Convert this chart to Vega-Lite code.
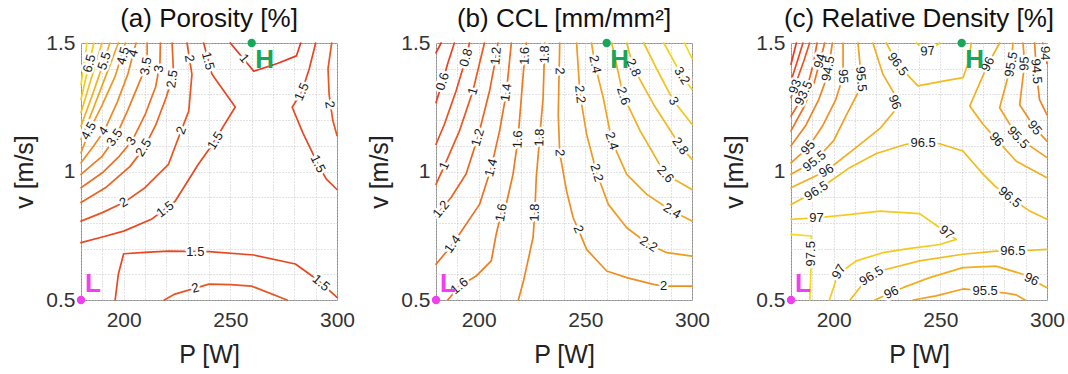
{
"$schema":"https://vega.github.io/schema/vega-lite/v6.json",
"padding":{"left":12,"top":6,"right":5,"bottom":5},
"config":{"font":"Liberation Sans","view":{"stroke":"#8a8a8a","strokeWidth":1}},
"bounds":"flush",
"spacing":99,
"data":{"values":[
{"p":"a","k":"L","id":"a7","lv":7,"P":180,"v":1.339},{"p":"a","k":"L","id":"a7","lv":7,"P":181.5,"v":1.42},{"p":"a","k":"L","id":"a7","lv":7,"P":182.8,"v":1.5},
{"p":"a","k":"L","id":"a65","lv":6.5,"P":180,"v":1.28},{"p":"a","k":"L","id":"a65","lv":6.5,"P":183,"v":1.39},{"p":"a","k":"L","id":"a65","lv":6.5,"P":186,"v":1.5},
{"p":"a","k":"L","id":"a6","lv":6,"P":180,"v":1.229},{"p":"a","k":"L","id":"a6","lv":6,"P":184,"v":1.34},{"p":"a","k":"L","id":"a6","lv":6,"P":187,"v":1.42},{"p":"a","k":"L","id":"a6","lv":6,"P":189.8,"v":1.5},
{"p":"a","k":"L","id":"a55","lv":5.5,"P":180,"v":1.177},{"p":"a","k":"L","id":"a55","lv":5.5,"P":185,"v":1.29},{"p":"a","k":"L","id":"a55","lv":5.5,"P":190,"v":1.41},{"p":"a","k":"L","id":"a55","lv":5.5,"P":193.5,"v":1.5},
{"p":"a","k":"L","id":"a5","lv":5,"P":180,"v":1.125},{"p":"a","k":"L","id":"a5","lv":5,"P":186,"v":1.25},{"p":"a","k":"L","id":"a5","lv":5,"P":192,"v":1.38},{"p":"a","k":"L","id":"a5","lv":5,"P":197.5,"v":1.5},
{"p":"a","k":"L","id":"a45","lv":4.5,"P":180,"v":1.073},{"p":"a","k":"L","id":"a45","lv":4.5,"P":184,"v":1.16},{"p":"a","k":"L","id":"a45","lv":4.5,"P":190,"v":1.26},{"p":"a","k":"L","id":"a45","lv":4.5,"P":196,"v":1.37},{"p":"a","k":"L","id":"a45","lv":4.5,"P":200.8,"v":1.5},
{"p":"a","k":"L","id":"a4","lv":4,"P":180,"v":1.034},{"p":"a","k":"L","id":"a4","lv":4,"P":186,"v":1.1},{"p":"a","k":"L","id":"a4","lv":4,"P":191,"v":1.16},{"p":"a","k":"L","id":"a4","lv":4,"P":197,"v":1.27},{"p":"a","k":"L","id":"a4","lv":4,"P":202,"v":1.38},{"p":"a","k":"L","id":"a4","lv":4,"P":205.8,"v":1.5},
{"p":"a","k":"L","id":"a35","lv":3.5,"P":180,"v":0.989},{"p":"a","k":"L","id":"a35","lv":3.5,"P":190,"v":1.06},{"p":"a","k":"L","id":"a35","lv":3.5,"P":196,"v":1.13},{"p":"a","k":"L","id":"a35","lv":3.5,"P":202,"v":1.24},{"p":"a","k":"L","id":"a35","lv":3.5,"P":207,"v":1.34},{"p":"a","k":"L","id":"a35","lv":3.5,"P":211,"v":1.42},{"p":"a","k":"L","id":"a35","lv":3.5,"P":211,"v":1.5},
{"p":"a","k":"L","id":"a3","lv":3,"P":180,"v":0.937},{"p":"a","k":"L","id":"a3","lv":3,"P":190,"v":0.995},{"p":"a","k":"L","id":"a3","lv":3,"P":198,"v":1.06},{"p":"a","k":"L","id":"a3","lv":3,"P":204,"v":1.12},{"p":"a","k":"L","id":"a3","lv":3,"P":210,"v":1.22},{"p":"a","k":"L","id":"a3","lv":3,"P":215,"v":1.33},{"p":"a","k":"L","id":"a3","lv":3,"P":217,"v":1.42},{"p":"a","k":"L","id":"a3","lv":3,"P":217.2,"v":1.5},
{"p":"a","k":"L","id":"a25","lv":2.5,"P":180,"v":0.879},{"p":"a","k":"L","id":"a25","lv":2.5,"P":192,"v":0.94},{"p":"a","k":"L","id":"a25","lv":2.5,"P":203,"v":1.02},{"p":"a","k":"L","id":"a25","lv":2.5,"P":209.5,"v":1.09},{"p":"a","k":"L","id":"a25","lv":2.5,"P":215,"v":1.18},{"p":"a","k":"L","id":"a25","lv":2.5,"P":220,"v":1.29},{"p":"a","k":"L","id":"a25","lv":2.5,"P":223.4,"v":1.38},{"p":"a","k":"L","id":"a25","lv":2.5,"P":222.7,"v":1.5},
{"p":"a","k":"L","id":"a2","lv":2,"P":180,"v":0.807},{"p":"a","k":"L","id":"a2","lv":2,"P":190,"v":0.84},{"p":"a","k":"L","id":"a2","lv":2,"P":200,"v":0.879},{"p":"a","k":"L","id":"a2","lv":2,"P":210,"v":0.937},{"p":"a","k":"L","id":"a2","lv":2,"P":221,"v":1.028},{"p":"a","k":"L","id":"a2","lv":2,"P":227,"v":1.16},{"p":"a","k":"L","id":"a2","lv":2,"P":230.5,"v":1.235},{"p":"a","k":"L","id":"a2","lv":2,"P":232,"v":1.378},{"p":"a","k":"L","id":"a2","lv":2,"P":229.7,"v":1.5},
{"p":"a","k":"L","id":"a15","lv":1.5,"P":180,"v":0.723},{"p":"a","k":"L","id":"a15","lv":1.5,"P":190,"v":0.745},{"p":"a","k":"L","id":"a15","lv":1.5,"P":200,"v":0.768},{"p":"a","k":"L","id":"a15","lv":1.5,"P":213,"v":0.814},{"p":"a","k":"L","id":"a15","lv":1.5,"P":224.2,"v":0.885},{"p":"a","k":"L","id":"a15","lv":1.5,"P":235,"v":1.028},{"p":"a","k":"L","id":"a15","lv":1.5,"P":240.6,"v":1.093},{"p":"a","k":"L","id":"a15","lv":1.5,"P":252.3,"v":1.251},{"p":"a","k":"L","id":"a15","lv":1.5,"P":241.4,"v":1.378},{"p":"a","k":"L","id":"a15","lv":1.5,"P":237.5,"v":1.5},
{"p":"a","k":"L","id":"a1","lv":1,"P":250,"v":1.5},{"p":"a","k":"L","id":"a1","lv":1,"P":261,"v":1.39},{"p":"a","k":"L","id":"a1","lv":1,"P":272,"v":1.42},{"p":"a","k":"L","id":"a1","lv":1,"P":281,"v":1.45},{"p":"a","k":"L","id":"a1","lv":1,"P":283,"v":1.5},
{"p":"a","k":"L","id":"a15r","lv":1.5,"P":290,"v":1.5},{"p":"a","k":"L","id":"a15r","lv":1.5,"P":287,"v":1.4},{"p":"a","k":"L","id":"a15r","lv":1.5,"P":283.5,"v":1.31},{"p":"a","k":"L","id":"a15r","lv":1.5,"P":279,"v":1.25},{"p":"a","k":"L","id":"a15r","lv":1.5,"P":284,"v":1.15},{"p":"a","k":"L","id":"a15r","lv":1.5,"P":291,"v":1.03},{"p":"a","k":"L","id":"a15r","lv":1.5,"P":295,"v":0.97},{"p":"a","k":"L","id":"a15r","lv":1.5,"P":300,"v":0.93},
{"p":"a","k":"L","id":"a2r","lv":2,"P":297.5,"v":1.5},{"p":"a","k":"L","id":"a2r","lv":2,"P":295.8,"v":1.4},{"p":"a","k":"L","id":"a2r","lv":2,"P":296.3,"v":1.3},{"p":"a","k":"L","id":"a2r","lv":2,"P":298,"v":1.2},{"p":"a","k":"L","id":"a2r","lv":2,"P":300,"v":1.14},
{"p":"a","k":"L","id":"a15b","lv":1.5,"P":196,"v":0.5},{"p":"a","k":"L","id":"a15b","lv":1.5,"P":197.5,"v":0.6},{"p":"a","k":"L","id":"a15b","lv":1.5,"P":200,"v":0.68},{"p":"a","k":"L","id":"a15b","lv":1.5,"P":210,"v":0.685},{"p":"a","k":"L","id":"a15b","lv":1.5,"P":221,"v":0.69},{"p":"a","k":"L","id":"a15b","lv":1.5,"P":240,"v":0.688},{"p":"a","k":"L","id":"a15b","lv":1.5,"P":261,"v":0.675},{"p":"a","k":"L","id":"a15b","lv":1.5,"P":280.5,"v":0.64},{"p":"a","k":"L","id":"a15b","lv":1.5,"P":290.6,"v":0.58},{"p":"a","k":"L","id":"a15b","lv":1.5,"P":296,"v":0.54},{"p":"a","k":"L","id":"a15b","lv":1.5,"P":300,"v":0.51},
{"p":"a","k":"L","id":"a2b","lv":2,"P":219,"v":0.5},{"p":"a","k":"L","id":"a2b","lv":2,"P":224,"v":0.523},{"p":"a","k":"L","id":"a2b","lv":2,"P":240,"v":0.562},{"p":"a","k":"L","id":"a2b","lv":2,"P":250,"v":0.56},{"p":"a","k":"L","id":"a2b","lv":2,"P":260,"v":0.554},{"p":"a","k":"L","id":"a2b","lv":2,"P":276.6,"v":0.5},

{"p":"b","k":"L","id":"b04","lv":0.4,"P":180,"v":1.462},{"p":"b","k":"L","id":"b04","lv":0.4,"P":182.4,"v":1.5},
{"p":"b","k":"L","id":"b06","lv":0.6,"P":188.6,"v":1.5},{"p":"b","k":"L","id":"b06","lv":0.6,"P":185.5,"v":1.42},{"p":"b","k":"L","id":"b06","lv":0.6,"P":183.1,"v":1.35},{"p":"b","k":"L","id":"b06","lv":0.6,"P":180,"v":1.268},
{"p":"b","k":"L","id":"b08","lv":0.8,"P":195.7,"v":1.5},{"p":"b","k":"L","id":"b08","lv":0.8,"P":194.1,"v":1.443},{"p":"b","k":"L","id":"b08","lv":0.8,"P":189.4,"v":1.313},{"p":"b","k":"L","id":"b08","lv":0.8,"P":183.9,"v":1.183},{"p":"b","k":"L","id":"b08","lv":0.8,"P":180,"v":1.106},
{"p":"b","k":"L","id":"b10","lv":1,"P":202.7,"v":1.5},{"p":"b","k":"L","id":"b10","lv":1,"P":197.3,"v":1.313},{"p":"b","k":"L","id":"b10","lv":1,"P":191,"v":1.158},{"p":"b","k":"L","id":"b10","lv":1,"P":183.9,"v":1.022},{"p":"b","k":"L","id":"b10","lv":1,"P":180,"v":0.95},
{"p":"b","k":"L","id":"b12","lv":1.2,"P":209,"v":1.5},{"p":"b","k":"L","id":"b12","lv":1.2,"P":208.2,"v":1.45},{"p":"b","k":"L","id":"b12","lv":1.2,"P":205.1,"v":1.313},{"p":"b","k":"L","id":"b12","lv":1.2,"P":199.6,"v":1.132},{"p":"b","k":"L","id":"b12","lv":1.2,"P":194.1,"v":0.99},{"p":"b","k":"L","id":"b12","lv":1.2,"P":187,"v":0.898},{"p":"b","k":"L","id":"b12","lv":1.2,"P":182.4,"v":0.853},{"p":"b","k":"L","id":"b12","lv":1.2,"P":180,"v":0.827},
{"p":"b","k":"L","id":"b14","lv":1.4,"P":215.3,"v":1.5},{"p":"b","k":"L","id":"b14","lv":1.4,"P":213,"v":1.307},{"p":"b","k":"L","id":"b14","lv":1.4,"P":209.8,"v":1.158},{"p":"b","k":"L","id":"b14","lv":1.4,"P":205.9,"v":1.015},{"p":"b","k":"L","id":"b14","lv":1.4,"P":200.4,"v":0.872},{"p":"b","k":"L","id":"b14","lv":1.4,"P":187.8,"v":0.717},{"p":"b","k":"L","id":"b14","lv":1.4,"P":180,"v":0.639},
{"p":"b","k":"L","id":"b16","lv":1.6,"P":222.4,"v":1.5},{"p":"b","k":"L","id":"b16","lv":1.6,"P":221.6,"v":1.45},{"p":"b","k":"L","id":"b16","lv":1.6,"P":220,"v":1.287},{"p":"b","k":"L","id":"b16","lv":1.6,"P":218.4,"v":1.125},{"p":"b","k":"L","id":"b16","lv":1.6,"P":216.1,"v":0.989},{"p":"b","k":"L","id":"b16","lv":1.6,"P":212.9,"v":0.872},{"p":"b","k":"L","id":"b16","lv":1.6,"P":210.6,"v":0.84},{"p":"b","k":"L","id":"b16","lv":1.6,"P":208.2,"v":0.755},{"p":"b","k":"L","id":"b16","lv":1.6,"P":205.9,"v":0.652},{"p":"b","k":"L","id":"b16","lv":1.6,"P":198.8,"v":0.593},{"p":"b","k":"L","id":"b16","lv":1.6,"P":191,"v":0.554},{"p":"b","k":"L","id":"b16","lv":1.6,"P":185.5,"v":0.5},
{"p":"b","k":"L","id":"b18","lv":1.8,"P":231,"v":1.5},{"p":"b","k":"L","id":"b18","lv":1.8,"P":230.2,"v":1.287},{"p":"b","k":"L","id":"b18","lv":1.8,"P":228.6,"v":1.132},{"p":"b","k":"L","id":"b18","lv":1.8,"P":227,"v":0.976},{"p":"b","k":"L","id":"b18","lv":1.8,"P":226.3,"v":0.84},{"p":"b","k":"L","id":"b18","lv":1.8,"P":225.5,"v":0.743},{"p":"b","k":"L","id":"b18","lv":1.8,"P":222.4,"v":0.626},{"p":"b","k":"L","id":"b18","lv":1.8,"P":221,"v":0.574},{"p":"b","k":"L","id":"b18","lv":1.8,"P":218.6,"v":0.5},
{"p":"b","k":"L","id":"b20","lv":2,"P":238,"v":1.5},{"p":"b","k":"L","id":"b20","lv":2,"P":237.3,"v":1.222},{"p":"b","k":"L","id":"b20","lv":2,"P":238,"v":1.073},{"p":"b","k":"L","id":"b20","lv":2,"P":241.2,"v":0.924},{"p":"b","k":"L","id":"b20","lv":2,"P":244.3,"v":0.82},{"p":"b","k":"L","id":"b20","lv":2,"P":246.7,"v":0.775},{"p":"b","k":"L","id":"b20","lv":2,"P":250.6,"v":0.697},{"p":"b","k":"L","id":"b20","lv":2,"P":260,"v":0.613},{"p":"b","k":"L","id":"b20","lv":2,"P":269.4,"v":0.587},{"p":"b","k":"L","id":"b20","lv":2,"P":282,"v":0.561},{"p":"b","k":"L","id":"b20","lv":2,"P":286.7,"v":0.554},{"p":"b","k":"L","id":"b20","lv":2,"P":300,"v":0.554},
{"p":"b","k":"L","id":"b22","lv":2.2,"P":245.9,"v":1.5},{"p":"b","k":"L","id":"b22","lv":2.2,"P":247.5,"v":1.3},{"p":"b","k":"L","id":"b22","lv":2.2,"P":250.6,"v":1.145},{"p":"b","k":"L","id":"b22","lv":2.2,"P":255.3,"v":0.995},{"p":"b","k":"L","id":"b22","lv":2.2,"P":260.8,"v":0.872},{"p":"b","k":"L","id":"b22","lv":2.2,"P":269.4,"v":0.781},{"p":"b","k":"L","id":"b22","lv":2.2,"P":279.6,"v":0.717},{"p":"b","k":"L","id":"b22","lv":2.2,"P":288.2,"v":0.684},{"p":"b","k":"L","id":"b22","lv":2.2,"P":300,"v":0.671},
{"p":"b","k":"L","id":"b24","lv":2.4,"P":252.9,"v":1.5},{"p":"b","k":"L","id":"b24","lv":2.4,"P":254.5,"v":1.417},{"p":"b","k":"L","id":"b24","lv":2.4,"P":258.4,"v":1.287},{"p":"b","k":"L","id":"b24","lv":2.4,"P":262.4,"v":1.119},{"p":"b","k":"L","id":"b24","lv":2.4,"P":269.4,"v":0.989},{"p":"b","k":"L","id":"b24","lv":2.4,"P":278.8,"v":0.911},{"p":"b","k":"L","id":"b24","lv":2.4,"P":290.6,"v":0.846},{"p":"b","k":"L","id":"b24","lv":2.4,"P":300,"v":0.807},
{"p":"b","k":"L","id":"b26","lv":2.6,"P":262.4,"v":1.5},{"p":"b","k":"L","id":"b26","lv":2.6,"P":267.8,"v":1.294},{"p":"b","k":"L","id":"b26","lv":2.6,"P":275.7,"v":1.158},{"p":"b","k":"L","id":"b26","lv":2.6,"P":287.5,"v":0.989},{"p":"b","k":"L","id":"b26","lv":2.6,"P":300,"v":0.93},
{"p":"b","k":"L","id":"b28","lv":2.8,"P":269.4,"v":1.5},{"p":"b","k":"L","id":"b28","lv":2.8,"P":272.5,"v":1.404},{"p":"b","k":"L","id":"b28","lv":2.8,"P":282,"v":1.261},{"p":"b","k":"L","id":"b28","lv":2.8,"P":294.5,"v":1.099},{"p":"b","k":"L","id":"b28","lv":2.8,"P":300,"v":1.047},
{"p":"b","k":"L","id":"b30","lv":3,"P":277.4,"v":1.5},{"p":"b","k":"L","id":"b30","lv":3,"P":284,"v":1.39},{"p":"b","k":"L","id":"b30","lv":3,"P":291.4,"v":1.274},{"p":"b","k":"L","id":"b30","lv":3,"P":300,"v":1.184},
{"p":"b","k":"L","id":"b32","lv":3.2,"P":286.8,"v":1.5},{"p":"b","k":"L","id":"b32","lv":3.2,"P":295.3,"v":1.372},{"p":"b","k":"L","id":"b32","lv":3.2,"P":300,"v":1.32},
{"p":"b","k":"L","id":"b34","lv":3.4,"P":296.5,"v":1.5},{"p":"b","k":"L","id":"b34","lv":3.4,"P":300,"v":1.44},

{"p":"c","k":"L","id":"c92","lv":92,"P":180,"v":1.417},{"p":"c","k":"L","id":"c92","lv":92,"P":182.5,"v":1.5},
{"p":"c","k":"L","id":"c925","lv":92.5,"P":180,"v":1.352},{"p":"c","k":"L","id":"c925","lv":92.5,"P":183,"v":1.43},{"p":"c","k":"L","id":"c925","lv":92.5,"P":185.6,"v":1.5},
{"p":"c","k":"L","id":"c93","lv":93,"P":180,"v":1.287},{"p":"c","k":"L","id":"c93","lv":93,"P":183,"v":1.36},{"p":"c","k":"L","id":"c93","lv":93,"P":186,"v":1.43},{"p":"c","k":"L","id":"c93","lv":93,"P":188.75,"v":1.5},
{"p":"c","k":"L","id":"c935","lv":93.5,"P":180,"v":1.216},{"p":"c","k":"L","id":"c935","lv":93.5,"P":184,"v":1.27},{"p":"c","k":"L","id":"c935","lv":93.5,"P":188,"v":1.34},{"p":"c","k":"L","id":"c935","lv":93.5,"P":190.5,"v":1.42},{"p":"c","k":"L","id":"c935","lv":93.5,"P":192.2,"v":1.5},
{"p":"c","k":"L","id":"c94","lv":94,"P":180,"v":1.158},{"p":"c","k":"L","id":"c94","lv":94,"P":186,"v":1.25},{"p":"c","k":"L","id":"c94","lv":94,"P":191,"v":1.35},{"p":"c","k":"L","id":"c94","lv":94,"P":193.6,"v":1.43},{"p":"c","k":"L","id":"c94","lv":94,"P":195.8,"v":1.5},
{"p":"c","k":"L","id":"c945","lv":94.5,"P":180,"v":1.1},{"p":"c","k":"L","id":"c945","lv":94.5,"P":187,"v":1.18},{"p":"c","k":"L","id":"c945","lv":94.5,"P":193,"v":1.28},{"p":"c","k":"L","id":"c945","lv":94.5,"P":197,"v":1.37},{"p":"c","k":"L","id":"c945","lv":94.5,"P":199.4,"v":1.5},
{"p":"c","k":"L","id":"c95","lv":95,"P":180,"v":1.034},{"p":"c","k":"L","id":"c95","lv":95,"P":188,"v":1.093},{"p":"c","k":"L","id":"c95","lv":95,"P":195,"v":1.18},{"p":"c","k":"L","id":"c95","lv":95,"P":201,"v":1.28},{"p":"c","k":"L","id":"c95","lv":95,"P":204.4,"v":1.37},{"p":"c","k":"L","id":"c95","lv":95,"P":204.4,"v":1.5},
{"p":"c","k":"L","id":"c955","lv":95.5,"P":180,"v":0.989},{"p":"c","k":"L","id":"c955","lv":95.5,"P":191,"v":1.04},{"p":"c","k":"L","id":"c955","lv":95.5,"P":200,"v":1.12},{"p":"c","k":"L","id":"c955","lv":95.5,"P":206,"v":1.22},{"p":"c","k":"L","id":"c955","lv":95.5,"P":211,"v":1.3},{"p":"c","k":"L","id":"c955","lv":95.5,"P":213,"v":1.36},{"p":"c","k":"L","id":"c955","lv":95.5,"P":211.4,"v":1.5},
{"p":"c","k":"L","id":"c96","lv":96,"P":180,"v":0.937},{"p":"c","k":"L","id":"c96","lv":96,"P":196.6,"v":1.003},{"p":"c","k":"L","id":"c96","lv":96,"P":210,"v":1.09},{"p":"c","k":"L","id":"c96","lv":96,"P":222,"v":1.17},{"p":"c","k":"L","id":"c96","lv":96,"P":229,"v":1.24},{"p":"c","k":"L","id":"c96","lv":96,"P":228.6,"v":1.3},{"p":"c","k":"L","id":"c96","lv":96,"P":223,"v":1.38},{"p":"c","k":"L","id":"c96","lv":96,"P":218.4,"v":1.5},
{"p":"c","k":"L","id":"c965","lv":96.5,"P":180,"v":0.872},{"p":"c","k":"L","id":"c965","lv":96.5,"P":191.9,"v":0.924},{"p":"c","k":"L","id":"c965","lv":96.5,"P":207.5,"v":1.015},{"p":"c","k":"L","id":"c965","lv":96.5,"P":220,"v":1.07},{"p":"c","k":"L","id":"c965","lv":96.5,"P":234,"v":1.106},{"p":"c","k":"L","id":"c965","lv":96.5,"P":241.9,"v":1.112},{"p":"c","k":"L","id":"c965","lv":96.5,"P":249.7,"v":1.108},{"p":"c","k":"L","id":"c965","lv":96.5,"P":260.6,"v":1.08},{"p":"c","k":"L","id":"c965","lv":96.5,"P":270,"v":0.99},{"p":"c","k":"L","id":"c965","lv":96.5,"P":276,"v":0.94},{"p":"c","k":"L","id":"c965","lv":96.5,"P":282.5,"v":0.9},{"p":"c","k":"L","id":"c965","lv":96.5,"P":291.9,"v":0.846},{"p":"c","k":"L","id":"c965","lv":96.5,"P":300,"v":0.814},
{"p":"c","k":"L","id":"c965t","lv":96.5,"P":224.7,"v":1.5},{"p":"c","k":"L","id":"c965t","lv":96.5,"P":230,"v":1.417},{"p":"c","k":"L","id":"c965t","lv":96.5,"P":239.5,"v":1.333},{"p":"c","k":"L","id":"c965t","lv":96.5,"P":250,"v":1.35},{"p":"c","k":"L","id":"c965t","lv":96.5,"P":260.6,"v":1.365},{"p":"c","k":"L","id":"c965t","lv":96.5,"P":263,"v":1.42},{"p":"c","k":"L","id":"c965t","lv":96.5,"P":264.5,"v":1.5},
{"p":"c","k":"L","id":"c97t","lv":97,"P":238.8,"v":1.5},{"p":"c","k":"L","id":"c97t","lv":97,"P":244,"v":1.465},{"p":"c","k":"L","id":"c97t","lv":97,"P":249.7,"v":1.5},
{"p":"c","k":"L","id":"c96r","lv":96,"P":277.8,"v":1.5},{"p":"c","k":"L","id":"c96r","lv":96,"P":272.3,"v":1.417},{"p":"c","k":"L","id":"c96r","lv":96,"P":263.8,"v":1.255},{"p":"c","k":"L","id":"c96r","lv":96,"P":270,"v":1.184},{"p":"c","k":"L","id":"c96r","lv":96,"P":276.3,"v":1.125},{"p":"c","k":"L","id":"c96r","lv":96,"P":285.6,"v":1.04},{"p":"c","k":"L","id":"c96r","lv":96,"P":300,"v":0.976},
{"p":"c","k":"L","id":"c955r","lv":95.5,"P":284,"v":1.5},{"p":"c","k":"L","id":"c955r","lv":95.5,"P":283.3,"v":1.417},{"p":"c","k":"L","id":"c955r","lv":95.5,"P":277.8,"v":1.248},{"p":"c","k":"L","id":"c955r","lv":95.5,"P":286.4,"v":1.132},{"p":"c","k":"L","id":"c955r","lv":95.5,"P":300,"v":1.054},
{"p":"c","k":"L","id":"c95r","lv":95,"P":288.75,"v":1.5},{"p":"c","k":"L","id":"c95r","lv":95,"P":289.5,"v":1.42},{"p":"c","k":"L","id":"c95r","lv":95,"P":287.2,"v":1.26},{"p":"c","k":"L","id":"c95r","lv":95,"P":294.2,"v":1.17},{"p":"c","k":"L","id":"c95r","lv":95,"P":300,"v":1.118},
{"p":"c","k":"L","id":"c945r","lv":94.5,"P":294.2,"v":1.5},{"p":"c","k":"L","id":"c945r","lv":94.5,"P":295,"v":1.39},{"p":"c","k":"L","id":"c945r","lv":94.5,"P":296.5,"v":1.28},{"p":"c","k":"L","id":"c945r","lv":94.5,"P":300,"v":1.22},
{"p":"c","k":"L","id":"c94r","lv":94,"P":298,"v":1.5},{"p":"c","k":"L","id":"c94r","lv":94,"P":300,"v":1.42},
{"p":"c","k":"L","id":"c975","lv":97.5,"P":180,"v":0.755},{"p":"c","k":"L","id":"c975","lv":97.5,"P":189.5,"v":0.749},{"p":"c","k":"L","id":"c975","lv":97.5,"P":189.5,"v":0.65},{"p":"c","k":"L","id":"c975","lv":97.5,"P":188.8,"v":0.5},
{"p":"c","k":"L","id":"c97","lv":97,"P":180,"v":0.814},{"p":"c","k":"L","id":"c97","lv":97,"P":191.9,"v":0.82},{"p":"c","k":"L","id":"c97","lv":97,"P":205,"v":0.83},{"p":"c","k":"L","id":"c97","lv":97,"P":221.6,"v":0.846},{"p":"c","k":"L","id":"c97","lv":97,"P":240.3,"v":0.836},{"p":"c","k":"L","id":"c97","lv":97,"P":249.7,"v":0.781},{"p":"c","k":"L","id":"c97","lv":97,"P":255,"v":0.75},{"p":"c","k":"L","id":"c97","lv":97,"P":257.5,"v":0.736},{"p":"c","k":"L","id":"c97","lv":97,"P":249.7,"v":0.716},{"p":"c","k":"L","id":"c97","lv":97,"P":235,"v":0.7},{"p":"c","k":"L","id":"c97","lv":97,"P":223,"v":0.684},{"p":"c","k":"L","id":"c97","lv":97,"P":210.6,"v":0.652},{"p":"c","k":"L","id":"c97","lv":97,"P":202,"v":0.6},{"p":"c","k":"L","id":"c97","lv":97,"P":198,"v":0.5},
{"p":"c","k":"L","id":"c965b","lv":96.5,"P":207.7,"v":0.5},{"p":"c","k":"L","id":"c965b","lv":96.5,"P":215.3,"v":0.58},{"p":"c","k":"L","id":"c965b","lv":96.5,"P":221.6,"v":0.613},{"p":"c","k":"L","id":"c965b","lv":96.5,"P":240.3,"v":0.652},{"p":"c","k":"L","id":"c965b","lv":96.5,"P":260.6,"v":0.678},{"p":"c","k":"L","id":"c965b","lv":96.5,"P":276,"v":0.69},{"p":"c","k":"L","id":"c965b","lv":96.5,"P":284,"v":0.69},{"p":"c","k":"L","id":"c965b","lv":96.5,"P":300,"v":0.697},
{"p":"c","k":"L","id":"c96b","lv":96,"P":219.4,"v":0.5},{"p":"c","k":"L","id":"c96b","lv":96,"P":227,"v":0.529},{"p":"c","k":"L","id":"c96b","lv":96,"P":232.5,"v":0.548},{"p":"c","k":"L","id":"c96b","lv":96,"P":245,"v":0.587},{"p":"c","k":"L","id":"c96b","lv":96,"P":260.6,"v":0.626},{"p":"c","k":"L","id":"c96b","lv":96,"P":276,"v":0.632},{"p":"c","k":"L","id":"c96b","lv":96,"P":288.8,"v":0.6},{"p":"c","k":"L","id":"c96b","lv":96,"P":292.7,"v":0.58},{"p":"c","k":"L","id":"c96b","lv":96,"P":300,"v":0.548},
{"p":"c","k":"L","id":"c955b","lv":95.5,"P":237.2,"v":0.5},{"p":"c","k":"L","id":"c955b","lv":95.5,"P":248,"v":0.516},{"p":"c","k":"L","id":"c955b","lv":95.5,"P":260.6,"v":0.543},{"p":"c","k":"L","id":"c955b","lv":95.5,"P":271,"v":0.535},{"p":"c","k":"L","id":"c955b","lv":95.5,"P":280.8,"v":0.527},{"p":"c","k":"L","id":"c955b","lv":95.5,"P":285.6,"v":0.52},{"p":"c","k":"L","id":"c955b","lv":95.5,"P":289.7,"v":0.5},

{"p":"a","k":"T","t":"1.5","P":219.5,"v":0.853,"r":-37},{"p":"a","k":"T","t":"1.5","P":243,"v":1.12,"r":-58},{"p":"a","k":"T","t":"1.5","P":239.5,"v":1.43,"r":75},
{"p":"a","k":"T","t":"2","P":200,"v":0.879,"r":-30},{"p":"a","k":"T","t":"2","P":227,"v":1.16,"r":-69},{"p":"a","k":"T","t":"2","P":230.8,"v":1.44,"r":81},
{"p":"a","k":"T","t":"2.5","P":209.4,"v":1.093,"r":-58},{"p":"a","k":"T","t":"2.5","P":222.8,"v":1.36,"r":-82},
{"p":"a","k":"T","t":"3","P":203.6,"v":1.119,"r":-55},{"p":"a","k":"T","t":"3","P":216.5,"v":1.4,"r":-80},
{"p":"a","k":"T","t":"3.5","P":195.8,"v":1.132,"r":-55},{"p":"a","k":"T","t":"3.5","P":210.5,"v":1.41,"r":-80},
{"p":"a","k":"T","t":"4","P":190.6,"v":1.158,"r":-55},{"p":"a","k":"T","t":"4","P":204.5,"v":1.46,"r":-75},
{"p":"a","k":"T","t":"4.5","P":183.6,"v":1.158,"r":-60},{"p":"a","k":"T","t":"4.5","P":199.8,"v":1.45,"r":-75},
{"p":"a","k":"T","t":"5.5","P":191,"v":1.43,"r":-72},{"p":"a","k":"T","t":"6.5","P":184,"v":1.42,"r":-75},
{"p":"a","k":"T","t":"1","P":256.5,"v":1.44,"r":50},
{"p":"a","k":"T","t":"1.5","P":283.5,"v":1.31,"r":-66},{"p":"a","k":"T","t":"1.5","P":291,"v":1.03,"r":64},{"p":"a","k":"T","t":"2","P":296.5,"v":1.26,"r":80},
{"p":"a","k":"T","t":"1.5","P":233.6,"v":0.688,"r":0},{"p":"a","k":"T","t":"1.5","P":292.5,"v":0.566,"r":40},{"p":"a","k":"T","t":"2","P":233.6,"v":0.546,"r":-16},

{"p":"b","k":"T","t":"0.6","P":183.1,"v":1.35,"r":-73},{"p":"b","k":"T","t":"0.8","P":194.1,"v":1.443,"r":-74},
{"p":"b","k":"T","t":"1","P":197.3,"v":1.313,"r":-74},{"p":"b","k":"T","t":"1","P":183.9,"v":1.022,"r":-66},
{"p":"b","k":"T","t":"1.2","P":208.2,"v":1.45,"r":-85},{"p":"b","k":"T","t":"1.2","P":199.6,"v":1.132,"r":-74},{"p":"b","k":"T","t":"1.2","P":182.4,"v":0.853,"r":-50},
{"p":"b","k":"T","t":"1.4","P":213,"v":1.307,"r":-82},{"p":"b","k":"T","t":"1.4","P":205.9,"v":1.015,"r":-75},{"p":"b","k":"T","t":"1.4","P":187.8,"v":0.717,"r":-54},
{"p":"b","k":"T","t":"1.6","P":221.6,"v":1.45,"r":-88},{"p":"b","k":"T","t":"1.6","P":218.4,"v":1.125,"r":-88},{"p":"b","k":"T","t":"1.6","P":210.6,"v":0.84,"r":-80},{"p":"b","k":"T","t":"1.6","P":191,"v":0.554,"r":-40},
{"p":"b","k":"T","t":"1.8","P":231,"v":1.456,"r":-88},{"p":"b","k":"T","t":"1.8","P":228.6,"v":1.132,"r":-88},{"p":"b","k":"T","t":"1.8","P":226.3,"v":0.84,"r":-88},
{"p":"b","k":"T","t":"2","P":238,"v":1.391,"r":88},{"p":"b","k":"T","t":"2","P":238,"v":1.073,"r":88},{"p":"b","k":"T","t":"2","P":246.7,"v":0.775,"r":67},{"p":"b","k":"T","t":"2","P":286.7,"v":0.554,"r":0},
{"p":"b","k":"T","t":"2.2","P":247.5,"v":1.3,"r":84},{"p":"b","k":"T","t":"2.2","P":255.3,"v":0.995,"r":73},{"p":"b","k":"T","t":"2.2","P":279.6,"v":0.717,"r":32},
{"p":"b","k":"T","t":"2.4","P":254.5,"v":1.417,"r":78},{"p":"b","k":"T","t":"2.4","P":262.4,"v":1.119,"r":73},{"p":"b","k":"T","t":"2.4","P":290.6,"v":0.846,"r":31},
{"p":"b","k":"T","t":"2.6","P":267.8,"v":1.294,"r":72},{"p":"b","k":"T","t":"2.6","P":287.5,"v":0.989,"r":48},
{"p":"b","k":"T","t":"2.8","P":272.5,"v":1.404,"r":66},{"p":"b","k":"T","t":"2.8","P":294.5,"v":1.099,"r":55},
{"p":"b","k":"T","t":"3","P":291.4,"v":1.274,"r":59},{"p":"b","k":"T","t":"3.2","P":295.3,"v":1.372,"r":58},

{"p":"c","k":"T","t":"93","P":182,"v":1.33,"r":-70},{"p":"c","k":"T","t":"93.5","P":186,"v":1.305,"r":-65},{"p":"c","k":"T","t":"94","P":193.6,"v":1.43,"r":-75},{"p":"c","k":"T","t":"94.5","P":197.5,"v":1.4,"r":-80},
{"p":"c","k":"T","t":"95","P":204.4,"v":1.37,"r":88},{"p":"c","k":"T","t":"95.5","P":212.8,"v":1.36,"r":85},{"p":"c","k":"T","t":"96","P":228.6,"v":1.27,"r":70},{"p":"c","k":"T","t":"96.5","P":230,"v":1.417,"r":54},{"p":"c","k":"T","t":"97","P":244,"v":1.468,"r":-5},
{"p":"c","k":"T","t":"95","P":188,"v":1.093,"r":-50},{"p":"c","k":"T","t":"95.5","P":191,"v":1.04,"r":-38},{"p":"c","k":"T","t":"96","P":196.6,"v":1.003,"r":-31},{"p":"c","k":"T","t":"96.5","P":191.9,"v":0.924,"r":-32},
{"p":"c","k":"T","t":"96.5","P":241.9,"v":1.112,"r":0},{"p":"c","k":"T","t":"96.5","P":282.5,"v":0.9,"r":40},
{"p":"c","k":"T","t":"96","P":272.3,"v":1.417,"r":-64},{"p":"c","k":"T","t":"96","P":276.3,"v":1.125,"r":50},
{"p":"c","k":"T","t":"95.5","P":283.3,"v":1.417,"r":-80},{"p":"c","k":"T","t":"95.5","P":286.4,"v":1.132,"r":47},
{"p":"c","k":"T","t":"95","P":289.5,"v":1.42,"r":-88},{"p":"c","k":"T","t":"95","P":294.2,"v":1.17,"r":50},
{"p":"c","k":"T","t":"94.5","P":295,"v":1.39,"r":85},{"p":"c","k":"T","t":"94","P":299,"v":1.46,"r":90},
{"p":"c","k":"T","t":"97","P":191.9,"v":0.82,"r":0},{"p":"c","k":"T","t":"97","P":252.8,"v":0.762,"r":40},{"p":"c","k":"T","t":"97","P":202.5,"v":0.61,"r":-60},{"p":"c","k":"T","t":"97.5","P":189.5,"v":0.68,"r":-90},
{"p":"c","k":"T","t":"96.5","P":217.7,"v":0.593,"r":-32},{"p":"c","k":"T","t":"96.5","P":284,"v":0.69,"r":0},
{"p":"c","k":"T","t":"96","P":227,"v":0.529,"r":-25},{"p":"c","k":"T","t":"96","P":292.7,"v":0.58,"r":25},{"p":"c","k":"T","t":"95.5","P":271,"v":0.535,"r":0},

{"p":"a","k":"M","n":"H","P":260,"v":1.5},{"p":"a","k":"M","n":"L","P":180,"v":0.5},
{"p":"b","k":"M","n":"H","P":260,"v":1.5},{"p":"b","k":"M","n":"L","P":180,"v":0.5},
{"p":"c","k":"M","n":"H","P":260,"v":1.5},{"p":"c","k":"M","n":"L","P":180,"v":0.5}
]},
"facet":{"column":{"field":"p","type":"nominal","header":{"title":null,"labelExpr":"datum.value == 'a' ? '(a) Porosity [%]' : datum.value == 'b' ? '(b) CCL [mm/mm²]' : '(c) Relative Density [%]'","labelFontSize":26,"labelColor":"#111111","labelPadding":11,"labelFont":"Liberation Sans"}}},
"resolve":{"scale":{"color":"independent","fill":"independent"},"axis":{"x":"independent","y":"independent"}},
"spec":{
"width":256,"height":257,
"encoding":{
"x":{"field":"P","type":"quantitative","scale":{"domain":[180,300],"nice":false,"zero":false},
 "axis":{"values":[180,190,200,210,220,230,240,250,260,270,280,290,300],"format":"d","labelExpr":"datum.value % 50 == 0 ? datum.label : ''","title":"P [W]","grid":true,"gridDash":[1,2],"gridColor":"#c4c4c4","ticks":false,"domain":false,"labelFlush":false,"labelOverlap":false,"labelFontSize":21,"labelColor":"#333333","labelPadding":9,"titleFontSize":25,"titleFontWeight":"normal","titleColor":"#222222","titlePadding":12}},
"y":{"field":"v","type":"quantitative","scale":{"domain":[0.5,1.5],"nice":false,"zero":false},
 "axis":{"values":[0.5,0.6,0.7,0.8,0.9,1,1.1,1.2,1.3,1.4,1.5],"format":"~g","labelExpr":"datum.value == 0.5 || datum.value == 1 || datum.value == 1.5 ? datum.label : ''","title":"v [m/s]","grid":true,"gridDash":[1,2],"gridColor":"#c4c4c4","ticks":false,"domain":false,"labelFlush":false,"labelOverlap":false,"labelFontSize":21,"labelColor":"#333333","labelPadding":6,"titleFontSize":25,"titleFontWeight":"normal","titleColor":"#222222","titlePadding":8}}
},
"layer":[
{"transform":[{"filter":"datum.k == 'L'"}],
 "mark":{"type":"line","strokeWidth":1.7,"strokeJoin":"round","strokeCap":"round"},
 "encoding":{"color":{"field":"lv","type":"quantitative","scale":{"range":["#E8391F","#EF8A22","#F6D919"],"interpolate":"rgb","nice":false,"zero":false},"legend":null},
  "detail":{"field":"id","type":"nominal"},"order":{"value":null}}},
{"transform":[{"filter":"datum.k == 'T'"}],
 "mark":{"type":"text","fontSize":13,"fill":"white","stroke":"white","strokeWidth":5,"strokeJoin":"round"},
 "encoding":{"text":{"field":"t"},"angle":{"field":"r","type":"quantitative","scale":null}}},
{"transform":[{"filter":"datum.k == 'T'"}],
 "mark":{"type":"text","fontSize":13,"fill":"#1a1a1a"},
 "encoding":{"text":{"field":"t"},"angle":{"field":"r","type":"quantitative","scale":null}}},
{"transform":[{"filter":"datum.k == 'M'"}],
 "mark":{"type":"point","filled":true,"size":70,"opacity":1,"strokeWidth":0},
 "encoding":{"fill":{"field":"n","type":"nominal","scale":{"domain":["H","L"],"range":["#17A65A","#F03EF0"]},"legend":null}}},
{"transform":[{"filter":"datum.k == 'M' && datum.n == 'H'"}],
 "mark":{"type":"text","fontSize":26,"fontWeight":"bold","fill":"#17A65A","dx":13,"dy":17},
 "encoding":{"text":{"field":"n"}}},
{"transform":[{"filter":"datum.k == 'M' && datum.n == 'L'"}],
 "mark":{"type":"text","fontSize":26,"fontWeight":"bold","fill":"#F03EF0","dx":12,"dy":-16},
 "encoding":{"text":{"field":"n"}}}
]
}
}
